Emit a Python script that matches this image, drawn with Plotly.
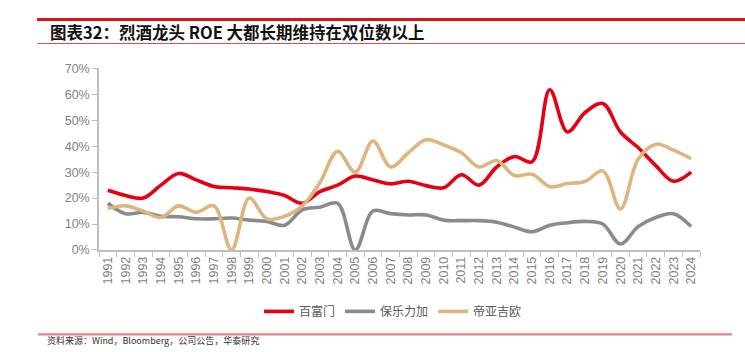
import plotly.graph_objects as go

W, H = 745, 352

years = [str(y) for y in range(1991, 2025)]

brown_forman = [23, 21, 20, 25, 29.5, 27, 24.5, 24, 23.5, 22.5, 21, 18, 22.5, 25, 28.5, 27,
                25.5, 26.5, 24.8, 24, 29, 25, 32, 36, 34, 61.8, 45.5, 53, 56.5, 45.5, 39.5,
                32.5, 26.5, 30]
pernod = [18, 14, 14.5, 13, 12.8, 12, 12, 12.3, 11.5, 11, 9.5, 15.5, 16.5, 18, 0, 15,
          14, 13.5, 13.5, 11.5, 11.3, 11.3, 10.7, 8.8, 7, 9.5, 10.5, 11, 10, 2.3, 9,
          12.5, 14, 9]
diageo = [16, 17, 15, 12.5, 17, 14.5, 17, 0, 20, 12, 13, 17, 26, 38, 30, 42,
          32, 37.5, 42.5, 40.5, 37.5, 32, 34.5, 28.7, 29.2, 24.4, 25.6, 26.4, 30.5, 15.8, 35,
          40.8, 38.5, 35.2]

series_names = ["百富门", "保乐力加", "帝亚吉欧"]
series_values = [brown_forman, pernod, diageo]
series_colors = ["#e60012", "#8a8b8d", "#ddb57f"]

title_text = "图表32：烈酒龙头 ROE 大都长期维持在双位数以上"
source_text = "资料来源：Wind，Bloomberg，公司公告，华泰研究"


def px_x(x):
    return x / W


def px_y(y):
    return 1 - y / H


fig = go.Figure()
for name, vals, col in zip(series_names, series_values, series_colors):
    fig.add_trace(go.Scatter(
        x=years, y=[v / 100 for v in vals], name=name, mode="lines",
        line=dict(color=col, width=3.6, shape="spline", smoothing=1.0),
    ))

axis_font = dict(family="Liberation Sans, Arial", size=12.5, color="#7f7f7f")

fig.update_layout(
    width=W, height=H,
    margin=dict(l=0, r=0, t=0, b=0),
    paper_bgcolor="white", plot_bgcolor="white",
    showlegend=True,
    legend=dict(
        orientation="h", x=px_x(393), xanchor="center", y=px_y(317), yanchor="middle",
        font=dict(family="Noto Sans CJK SC", size=12, color="#595959"),
        itemwidth=30, tracegroupgap=0, bgcolor="rgba(0,0,0,0)",
    ),
    xaxis=dict(
        domain=[px_x(99), px_x(700)],
        type="category",
        range=[-0.5, len(years) - 0.5],
        showline=True, linecolor="#bfbfbf", linewidth=1.5,
        ticks="outside", ticklen=5, tickcolor="#bfbfbf", tickson="boundaries",
        tickangle=-90, tickfont=axis_font, showgrid=False, zeroline=False,
        fixedrange=True,
    ),
    yaxis=dict(
        domain=[px_y(253), px_y(64)],
        range=[0, 0.7], dtick=0.1, tick0=0, tickformat=".0%",
        showline=True, linecolor="#bfbfbf", linewidth=1.5,
        ticks="outside", ticklen=5, tickcolor="#bfbfbf",
        tickfont=axis_font, showgrid=False, zeroline=False,
        fixedrange=True,
    ),
)

# header / footer rules
fig.add_shape(type="line", xref="paper", yref="paper", x0=px_x(37), x1=1.0,
              y0=px_y(13), y1=px_y(13), line=dict(color="#d7141e", width=3))
fig.add_shape(type="line", xref="paper", yref="paper", x0=px_x(37), x1=1.0,
              y0=px_y(38), y1=px_y(38), line=dict(color="#e25050", width=1.2))
fig.add_shape(type="line", xref="paper", yref="paper", x0=px_x(38), x1=px_x(732),
              y0=px_y(341), y1=px_y(341), line=dict(color="#e08585", width=2.2))

fig.add_annotation(
    text="<b>" + title_text + "</b>", xref="paper", yref="paper",
    x=px_x(48), y=px_y(26), xanchor="left", yanchor="middle", showarrow=False,
    font=dict(family="Noto Sans CJK SC", size=16.5, color="#111111"),
)
fig.add_annotation(
    text=source_text, xref="paper", yref="paper",
    x=px_x(45), y=px_y(347.5), xanchor="left", yanchor="middle", showarrow=False,
    font=dict(family="Noto Sans CJK SC", size=9, color="#333333"),
)

fig.write_html("out.html")
